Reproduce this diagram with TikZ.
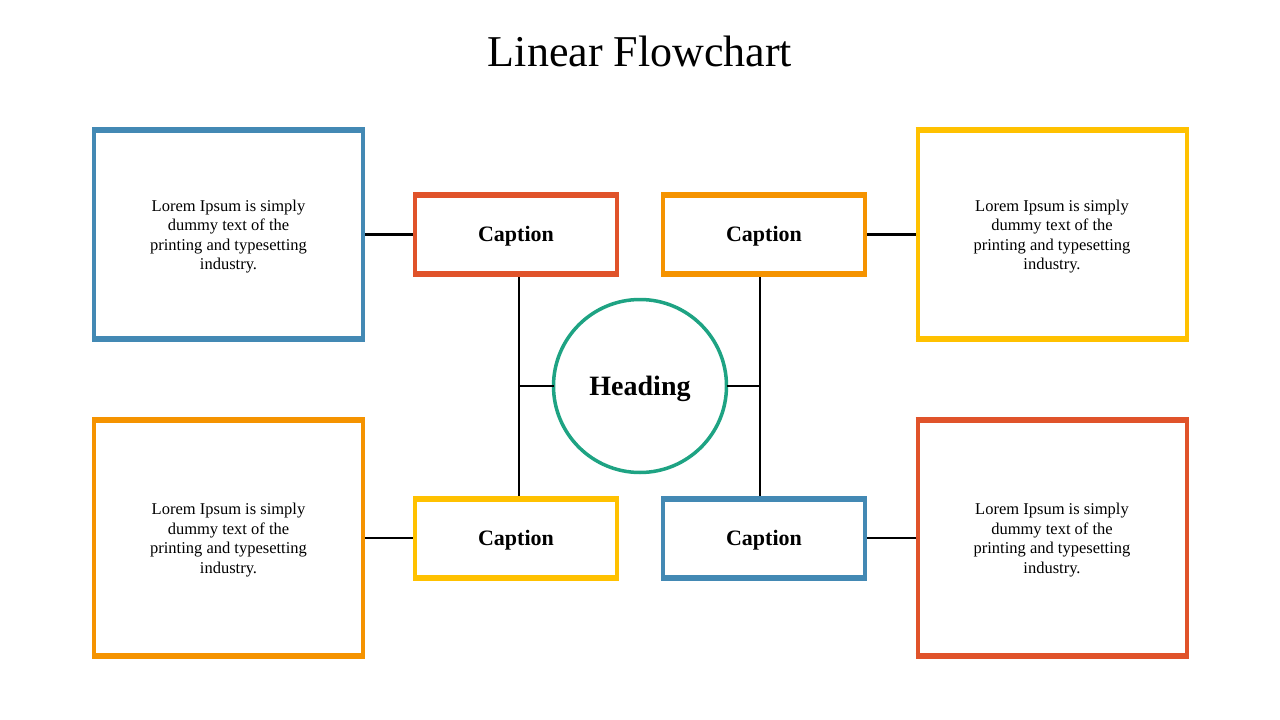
\documentclass[tikz,border=0pt]{standalone}
\usepackage{fontspec}
\setmainfont{Liberation Serif}
\definecolor{cblue}{HTML}{4389B4}
\definecolor{cred}{HTML}{E0532A}
\definecolor{corange}{HTML}{F59300}
\definecolor{cyellow}{HTML}{FFC100}
\definecolor{cgreen}{HTML}{1EA383}
\tikzset{
  bigbox/.style={draw=#1, line width=4pt, fill=white, rectangle, inner sep=0pt, outer sep=0pt,
    minimum width=269pt, minimum height=211pt, align=center,
    font=\fontsize{16.5}{19.5}\selectfont},
  capbox/.style={draw=#1, line width=4pt, fill=white, rectangle, inner sep=0pt, outer sep=0pt,
    minimum width=202pt, minimum height=81pt, font=\fontsize{22}{24}\selectfont\bfseries},
  thickconn/.style={line width=2.6pt, black},
  thinconn/.style={line width=1.1pt, black},
}
\newcommand{\bands}[2]{%
  \draw[#2, line width=6pt] ([xshift=-2pt,yshift=-1pt]#1.north west) -- ([xshift=2pt,yshift=-1pt]#1.north east);
  \draw[#2, line width=6pt] ([xshift=-2pt,yshift=1pt]#1.south west) -- ([xshift=2pt,yshift=1pt]#1.south east);
}
\begin{document}
\begin{tikzpicture}[x=1pt,y=-1pt]
\useasboundingbox (0,0) rectangle (1280,720);
\node[font=\fontsize{44}{48}\selectfont] (title) at (640,51) {Linear Flowchart};

% big boxes
\node[bigbox=cblue] (b1) at (228.5,234.5) {};
\node[bigbox=cyellow] (b2) at (1052,234.5) {};
\node[bigbox=corange, minimum height=238pt] (b3) at (228.5,538) {};
\node[bigbox=cred, minimum height=238pt] (b4) at (1052,538) {};
\foreach \b in {b1,b2,b3,b4}
  \node[align=center, font=\fontsize{16.5}{19.5}\selectfont] (t\b) at ([yshift=-2pt]\b.center)
    {Lorem Ipsum is simply\\dummy text of the\\printing and typesetting\\industry.};

% caption boxes
\node[capbox=cred] (c1) at (516,234.5) {};
\node[capbox=corange] (c2) at (764,234.5) {};
\node[capbox=cyellow] (c3) at (516,538) {};
\node[capbox=cblue] (c4) at (764,538) {};
\foreach \c in {c1,c2,c3,c4}
  \node[font=\fontsize{22}{24}\selectfont\bfseries] (t\c) at ([yshift=-2pt]\c.center) {Caption};

% heading
\node[circle, draw=cgreen, line width=3.5pt, minimum size=173pt, inner sep=0pt, outer sep=0pt] (h) at (640,386) {};
\node[font=\fontsize{28}{30}\selectfont\bfseries] (th) at ([yshift=-3pt]h.center) {Heading};

\bands{b1}{cblue}
\bands{b2}{cyellow}
\bands{b3}{corange}
\bands{b4}{cred}
\bands{c1}{cred}
\bands{c2}{corange}
\bands{c3}{cyellow}
\bands{c4}{cblue}

% connectors
\draw[thickconn] ([xshift=2pt]b1.east) -- ([xshift=-2pt]c1.west);
\draw[thickconn] ([xshift=2pt]c2.east) -- ([xshift=-2pt]b2.west);
\draw[thickconn] ([xshift=2pt]b3.east) -- ([xshift=-2pt]c3.west);
\draw[thickconn] ([xshift=2pt]c4.east) -- ([xshift=-2pt]b4.west);

\coordinate (v1) at ([xshift=3pt,yshift=-2pt]c1.south);
\coordinate (v2) at ([xshift=-4pt,yshift=-2pt]c2.south);
\draw[thinconn] (v1) -- ([xshift=3pt,yshift=2pt]c3.north);
\draw[thinconn] (v2) -- ([xshift=-4pt,yshift=2pt]c4.north);
\draw[thickconn] (h.west) -- (h.west -| v1);
\draw[thickconn] (h.east) -- (h.east -| v2);
\end{tikzpicture}
\end{document}
